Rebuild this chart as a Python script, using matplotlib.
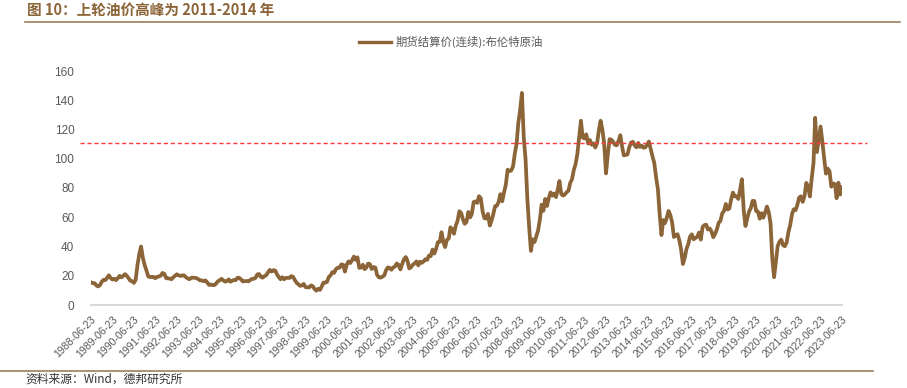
import matplotlib
matplotlib.use("Agg")
import matplotlib.pyplot as plt
import matplotlib.dates as mdates
import pandas as pd
import numpy as np

plt.rcParams['font.family'] = ['Noto Sans CJK SC', 'DejaVu Sans']

# Brent monthly values (USD/bbl), 1988-06 .. 2023-06
brent_1988 = [15.5, 14.9, 14.9, 13.4, 12.7, 13.6, 15.9]
brent_1989 = [17.2, 17.0, 18.6, 20.3, 18.5, 17.4, 17.9, 17.0, 18.4, 19.9, 18.9, 19.9]
brent_1990 = [21.1, 19.9, 18.4, 16.6, 16.3, 15.1, 17.2, 27.2, 34.9, 40.0, 32.3, 27.3]
brent_1991 = [23.6, 19.5, 19.1, 19.2, 19.2, 18.3, 19.3, 19.5, 20.1, 21.9, 21.3, 18.4]
brent_1992 = [18.2, 18.1, 17.6, 18.9, 19.9, 21.0, 20.3, 19.8, 20.2, 20.3, 19.1, 18.2]
brent_1993 = [17.6, 18.6, 18.7, 18.6, 18.4, 17.7, 16.8, 16.8, 16.3, 16.8, 15.4, 13.7]
brent_1994 = [14.0, 13.6, 13.6, 14.7, 16.2, 16.9, 17.9, 16.8, 16.0, 16.3, 17.5, 15.9]
brent_1995 = [16.6, 17.2, 17.0, 18.7, 18.5, 17.4, 16.1, 16.3, 16.4, 16.2, 17.0, 17.9]
brent_1996 = [17.9, 18.6, 20.9, 21.2, 19.2, 18.7, 19.7, 20.4, 22.4, 24.0, 22.9, 23.8]
brent_1997 = [23.5, 20.9, 19.1, 17.6, 19.0, 17.6, 18.5, 18.6, 18.5, 19.8, 19.2, 17.0]
brent_1998 = [15.1, 14.1, 13.1, 13.4, 14.4, 12.2, 12.1, 12.0, 13.4, 12.9, 11.0, 9.8]
brent_1999 = [11.1, 10.3, 12.5, 15.3, 15.3, 15.8, 19.1, 20.3, 22.5, 22.0, 24.6, 25.5]
brent_2000 = [25.5, 27.8, 27.5, 22.8, 27.6, 29.8, 28.7, 30.6, 33.1, 30.9, 32.6, 25.4]
brent_2001 = [25.6, 27.5, 24.5, 25.6, 28.3, 27.9, 24.6, 25.9, 25.6, 20.5, 18.9, 18.7]
brent_2002 = [19.4, 20.3, 23.7, 25.7, 25.4, 24.1, 25.7, 26.3, 28.4, 27.5, 24.3, 28.0]
brent_2003 = [31.2, 32.8, 30.3, 25.0, 25.8, 27.6, 28.4, 29.8, 27.1, 29.6, 28.8, 29.8]
brent_2004 = [31.3, 30.9, 33.8, 33.4, 37.9, 35.2, 38.4, 43.0, 43.2, 49.8, 43.1, 39.6]
brent_2005 = [44.5, 45.5, 53.1, 51.9, 48.7, 54.3, 57.5, 64.1, 62.9, 58.5, 55.5, 56.8]
brent_2006 = [63.6, 59.9, 62.3, 70.4, 70.8, 69.8, 74.4, 73.0, 63.9, 59.4, 59.1, 62.3]
brent_2007 = [54.3, 57.8, 62.1, 67.5, 67.9, 70.6, 75.8, 70.9, 77.1, 82.3, 92.5, 91.5]
brent_2008 = [92.0, 94.8, 103.3, 110.2, 124.6, 133.5, 145.0, 114.6, 99.6, 72.8, 53.2, 37.0]
brent_2009 = [44.9, 43.1, 46.8, 50.8, 57.9, 68.6, 64.4, 72.5, 67.7, 73.2, 77.0, 74.7]
brent_2010 = [76.2, 73.8, 78.8, 84.8, 75.9, 74.8, 75.6, 77.1, 78.2, 83.5, 86.1, 92.3]
brent_2011 = [96.5, 103.7, 114.6, 126.0, 114.5, 113.9, 116.7, 110.4, 112.8, 109.6, 110.5, 107.7]
brent_2012 = [110.6, 119.5, 126.0, 119.8, 110.3, 90.0, 102.6, 113.4, 113.0, 111.5, 109.5, 109.2]
brent_2013 = [112.3, 116.1, 108.5, 102.3, 102.6, 102.9, 107.7, 111.0, 111.6, 109.1, 107.8, 110.8]
brent_2014 = [108.1, 108.9, 107.5, 107.8, 109.5, 111.8, 106.8, 101.6, 97.1, 87.4, 79.4, 62.3]
brent_2015 = [47.8, 58.1, 55.9, 59.5, 64.3, 61.5, 56.6, 46.5, 47.6, 48.4, 44.3, 38.0]
brent_2016 = [28.0, 32.2, 38.2, 41.6, 46.7, 48.3, 44.9, 45.8, 46.6, 49.5, 44.7, 53.3]
brent_2017 = [54.6, 54.9, 51.6, 52.3, 50.3, 46.4, 48.5, 51.7, 56.2, 57.6, 62.7, 64.4]
brent_2018 = [69.1, 65.3, 66.0, 72.1, 76.9, 74.4, 74.3, 72.5, 78.9, 86.0, 64.8, 54.0]
brent_2019 = [59.4, 64.0, 66.1, 71.2, 71.1, 64.2, 63.9, 59.0, 62.8, 59.7, 63.2, 67.3]
brent_2020 = [63.6, 55.7, 32.0, 19.0, 29.4, 40.3, 43.2, 44.7, 40.9, 40.2, 42.7, 49.9]
brent_2021 = [54.8, 62.3, 65.4, 64.8, 68.3, 73.4, 74.3, 70.5, 74.5, 83.5, 81.1, 74.2]
brent_2022 = [86.5, 97.1, 128.0, 104.6, 113.3, 122.0, 111.9, 100.5, 89.8, 93.3, 91.4, 80.9]
brent_2023 = [83.1, 82.7, 73.0, 83.6, 75.5, 80.5]

series_name = "期货结算价(连续):布伦特原油"
ref_level = 111
title = "图 10：上轮油价高峰为 2011-2014 年"
source = "资料来源：Wind，德邦研究所"
tick_years = list(range(1988, 2024))

values = (brent_1988 + brent_1989 + brent_1990 + brent_1991 + brent_1992 + brent_1993 +
          brent_1994 + brent_1995 + brent_1996 + brent_1997 + brent_1998 + brent_1999 +
          brent_2000 + brent_2001 + brent_2002 + brent_2003 + brent_2004 + brent_2005 +
          brent_2006 + brent_2007 + brent_2008 + brent_2009 + brent_2010 + brent_2011 +
          brent_2012 + brent_2013 + brent_2014 + brent_2015 + brent_2016 + brent_2017 +
          brent_2018 + brent_2019 + brent_2020 + brent_2021 + brent_2022 + brent_2023)
dates = pd.date_range("1988-06-23", periods=len(values), freq=pd.DateOffset(months=1))

W, H = 907, 388
fig = plt.figure(figsize=(W / 100, H / 100), dpi=100)
ax = fig.add_axes([91 / W, 1 - 305 / H, (842 - 91) / W, (305 - 71) / H])

brown = '#8B6437'
ax.plot(dates, values, color=brown, lw=2.7, solid_joinstyle='round')

ax.set_xlim(pd.Timestamp("1988-06-23"), pd.Timestamp("2023-06-23"))
ax.set_ylim(0, 160)
ax.set_yticks(range(0, 161, 20))
ax.set_yticklabels([str(v) for v in range(0, 161, 20)], family=['Liberation Sans', 'DejaVu Sans'])
ticks = [pd.Timestamp(f"{y}-06-23") for y in tick_years]
ax.set_xticks(ticks)
ax.set_xticklabels([t.strftime("%Y-%m-%d") for t in ticks], rotation=45, ha='right',
                   rotation_mode='anchor', fontsize=7.6, color='#595959',
                   family=['Liberation Sans', 'DejaVu Sans'])
ax.tick_params(axis='x', length=0, pad=7)
ax.tick_params(axis='y', length=0, pad=12, labelsize=8.5, labelcolor='#595959')
for s in ['top', 'right', 'left']:
    ax.spines[s].set_visible(False)
ax.spines['bottom'].set_color('#D9D9D9')
ax.spines['bottom'].set_linewidth(1.5)

# reference dashed line extending slightly beyond the axes
ax.plot([-0.015, 1.033], [ref_level, ref_level], transform=ax.get_yaxis_transform(),
        color='#FF3B3B', lw=1.0, ls=(0, (3, 2)), clip_on=False)

# legend
fig.lines.append(plt.Line2D([359 / W, 391 / W], [1 - 42 / H] * 2, color=brown, lw=2.4,
                            transform=fig.transFigure))
fig.text(396 / W, 1 - 42 / H, series_name, fontsize=8.2, color='#595959', va='center', ha='left')

# title and frame lines
fig.text(27 / W, 1 - 10 / H, title, fontsize=10.5, fontweight='bold', color=brown,
         va='center', ha='left')
fig.lines.append(plt.Line2D([25 / W, 900 / W], [1 - 21.5 / H] * 2, color='#A07E5E', lw=1.2,
                            transform=fig.transFigure))
fig.lines.append(plt.Line2D([0, 873 / W], [1 - 371 / H] * 2, color='#A07E5E', lw=1.2,
                            transform=fig.transFigure))
fig.text(25 / W, 2 / H, source, fontsize=8.5, color='#333333', va='bottom', ha='left')

fig.savefig("out.png", dpi=100)
